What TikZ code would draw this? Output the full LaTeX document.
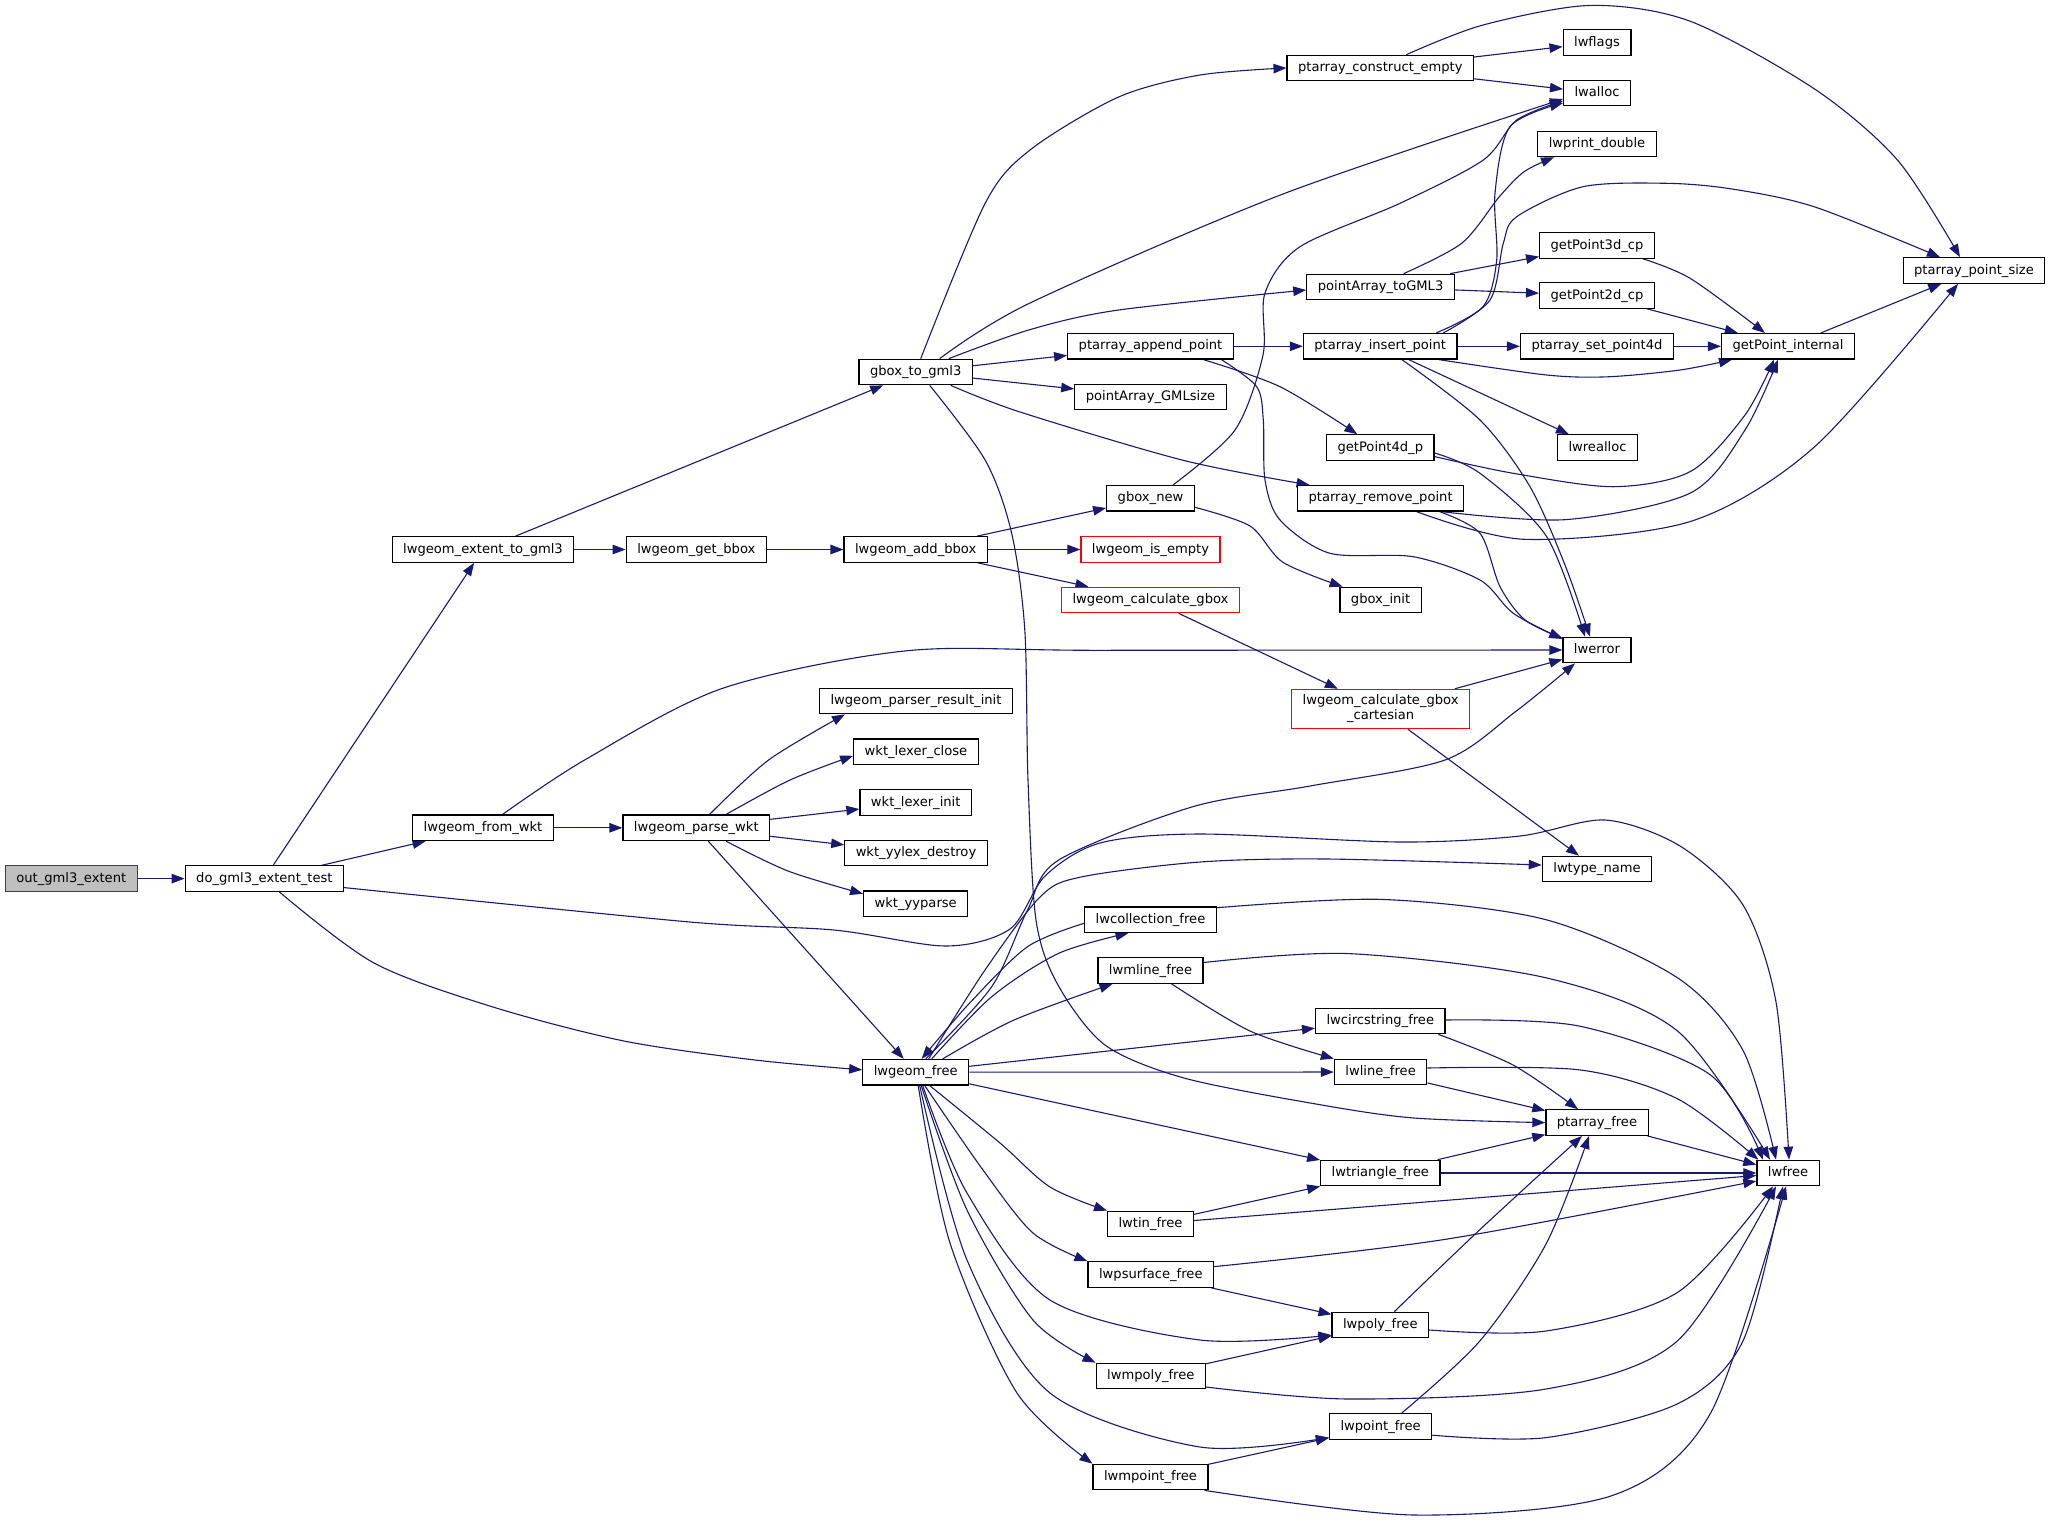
\documentclass[tikz,border=0pt]{standalone}
\usepackage{fontspec}
\setmainfont{DejaVu Sans}
\usetikzlibrary{arrows.meta,calc}
\definecolor{edgeblue}{HTML}{191970}
\definecolor{rootfill}{HTML}{BFBFBF}
\definecolor{rootdraw}{HTML}{404040}
\pgfdeclarelayer{bg}
\pgfdeclarelayer{edges}
\pgfsetlayers{bg,edges,main}
\begin{document}
\begin{tikzpicture}[x=1pt,y=-1pt,
  fn/.style={draw=black, line width=1.2pt, fill=white, inner xsep=11pt, inner ysep=0pt,
    minimum height=25.5pt, text height=9.8pt, text depth=2.8pt,
    font=\fontsize{13.1}{15}\selectfont},
  rootfn/.style={fn, fill=rootfill, draw=rootdraw},
  redfn/.style={fn, draw=red},
  redtwo/.style={draw=red, line width=1.2pt, fill=white, inner xsep=11pt, inner ysep=0pt,
    minimum height=39.3pt, align=center, font=\fontsize{13.1}{15}\selectfont},
  e/.style={draw=edgeblue, line width=1.1pt, -{Triangle[length=13pt,width=9.5pt]}},
]
\begin{pgfonlayer}{bg}
\fill[white] (0,0) rectangle (2051,1519);
\end{pgfonlayer}
\useasboundingbox (0,0) rectangle (2051,1519);

% ---- nodes ----
\node[rootfn] (root) at (71.3,878.6) {out\_gml3\_extent};
\node[fn] (dogml) at (264.4,878.6) {do\_gml3\_extent\_test};
\node[fn] (extgml) at (483,549.5) {lwgeom\_extent\_to\_gml3};
\node[fn] (fromwkt) at (483,827.8) {lwgeom\_from\_wkt};
\node[fn] (getbbox) at (696.3,549.5) {lwgeom\_get\_bbox};
\node[fn] (parsewkt) at (696.3,827.8) {lwgeom\_parse\_wkt};
\node[fn] (gboxgml) at (915.7,372) {gbox\_to\_gml3};
\node[fn] (addbbox) at (915.7,549.5) {lwgeom\_add\_bbox};
\node[fn] (parserinit) at (916,701) {lwgeom\_parser\_result\_init};
\node[fn] (lexerclose) at (916,751.8) {wkt\_lexer\_close};
\node[fn] (lexerinit) at (915.7,802.6) {wkt\_lexer\_init};
\node[fn] (yylexdestroy) at (916,853) {wkt\_yylex\_destroy};
\node[fn] (yyparse) at (915.7,903.8) {wkt\_yyparse};
\node[fn] (lwgfree) at (915.7,1072.2) {lwgeom\_free};
\node[fn] (appendpt) at (1150.5,346.3) {ptarray\_append\_point};
\node[fn] (gmlsize) at (1150.5,397) {pointArray\_GMLsize};
\node[fn] (gboxnew) at (1150.5,498.3) {gbox\_new};
\node[redfn] (isempty) at (1150.5,549.5) {lwgeom\_is\_empty};
\node[redfn] (calcgbox) at (1150.5,600) {lwgeom\_calculate\_gbox};
\node[fn] (lwcoll) at (1150.5,919.7) {lwcollection\_free};
\node[fn] (lwmline) at (1150.5,970.5) {lwmline\_free};
\node[fn] (lwtin) at (1150.5,1224) {lwtin\_free};
\node[fn] (lwpsurf) at (1150.8,1274.6) {lwpsurface\_free};
\node[fn] (lwmpoly) at (1150.8,1376) {lwmpoly\_free};
\node[fn] (lwmpoint) at (1150.5,1477) {lwmpoint\_free};
\node[fn] (constructempty) at (1380.3,68) {ptarray\_construct\_empty};
\node[fn] (togml3) at (1380.6,287) {pointArray\_toGML3};
\node[fn] (insertpt) at (1380.2,346.3) {ptarray\_insert\_point};
\node[fn] (getp4d) at (1380.3,447.6) {getPoint4d\_p};
\node[fn] (removept) at (1380.6,498.3) {ptarray\_remove\_point};
\node[fn] (gboxinit) at (1380.6,600) {gbox\_init};
\node[redtwo] (cartesian) at (1380.6,709) {lwgeom\_calculate\_gbox\\\_cartesian};
\node[fn] (lwcirc) at (1380.3,1021) {lwcircstring\_free};
\node[fn] (lwline) at (1380.6,1072) {lwline\_free};
\node[fn] (lwtriangle) at (1380.3,1173) {lwtriangle\_free};
\node[fn] (lwpoly) at (1380.3,1325) {lwpoly\_free};
\node[fn] (lwpoint) at (1380.6,1426.5) {lwpoint\_free};
\node[fn] (lwflags) at (1597,42.6) {lwflags};
\node[fn] (lwalloc) at (1597,93) {lwalloc};
\node[fn] (lwprint) at (1597,144) {lwprint\_double};
\node[fn] (getp3d) at (1597,245.5) {getPoint3d\_cp};
\node[fn] (getp2d) at (1597,295.5) {getPoint2d\_cp};
\node[fn] (setpt4d) at (1597,346.3) {ptarray\_set\_point4d};
\node[fn] (lwrealloc) at (1597.5,447.6) {lwrealloc};
\node[fn] (lwerror) at (1597,650) {lwerror};
\node[fn] (lwtype) at (1597,869) {lwtype\_name};
\node[fn] (ptarrayfree) at (1597,1122.6) {ptarray\_free};
\node[fn] (getpint) at (1788,346.3) {getPoint\_internal};
\node[fn] (lwfree) at (1788,1173) {lwfree};
\node[fn] (pointsize) at (1974,270.5) {ptarray\_point\_size};

\begin{pgfonlayer}{edges}
% ---- straight connectors ----
\draw[e] (root) -- (dogml);
\draw[e] (dogml) -- (extgml);
\draw[e] (dogml) -- (fromwkt);
\draw[e] (extgml) -- (gboxgml);
\draw[e] (extgml) -- (getbbox);
\draw[e] (getbbox) -- (addbbox);
\draw[e] (addbbox) -- (gboxnew);
\draw[e] (addbbox) -- (isempty);
\draw[e] (addbbox) -- (calcgbox);
\draw[e] (calcgbox) -- (cartesian);
\draw[e] (cartesian) -- (lwerror);
\draw[e] (cartesian) -- (lwtype);
\draw[e] (gboxgml) -- (appendpt);
\draw[e] (gboxgml) -- (gmlsize);
\draw[e] (constructempty) -- (lwflags);
\draw[e] (constructempty) -- (lwalloc);
\draw[e] (togml3) -- (getp3d);
\draw[e] (togml3) -- (getp2d);
\draw[e] (appendpt) -- (insertpt);
\draw[e] (insertpt) -- (setpt4d);
\draw[e] (setpt4d) -- (getpint);
\draw[e] (insertpt) -- (lwrealloc);
\draw[e] (getp2d) -- (getpint);
\draw[e] (getpint) -- (pointsize);
\draw[e] (fromwkt) -- (parsewkt);
\draw[e] (parsewkt) -- (lwgfree);
\draw[e] (parsewkt) -- (lexerinit);
\draw[e] (parsewkt) -- (yylexdestroy);
\draw[e] (lwgfree) -- (lwline);
\draw[e] (lwgfree) -- (lwcirc);
\draw[e] (lwgfree) -- (lwtriangle);
\draw[e] (lwline) -- (ptarrayfree);
\draw[e] (ptarrayfree) -- (lwfree);
\draw[e] (lwtriangle) -- (ptarrayfree);
\draw[e] (lwtriangle) -- (lwfree);
\draw[e] (lwtin) -- (lwtriangle);
\draw[e] (lwtin) -- (lwfree);
\draw[e] (lwpsurf) -- (lwpoly);
\draw[e] (lwmpoly) -- (lwpoly);
\draw[e] (lwmpoint) -- (lwpoint);

% ---- curved connectors ----
\draw[e] plot[smooth] coordinates {([yshift=-9pt]dogml.east) (690,922) (834,930) (946,946) (1010,929) (1045,876) (1100,843) (1200,834) (1400,842) (1520,836) (1605,820) (1680,846) (1743,905) (1776,1002) ([xshift=1pt]lwfree.north)};
\draw[e] plot[smooth] coordinates {([xshift=15pt]dogml.south) (374,963) (493,1007) (624,1041) (755,1060) ([yshift=2.4pt]lwgfree.west)};
\draw[e] plot[smooth] coordinates {([xshift=19.5pt]fromwkt.north) (584.6,760) (722.6,688.3) (906.5,650.8) (1100,650.3) (lwerror.west)};
\draw[e] plot[smooth] coordinates {([xshift=13.2pt]parsewkt.north) (768.6,760) ([xshift=-71pt]parserinit.south)};
\draw[e] plot[smooth] coordinates {([xshift=29.7pt]parsewkt.north) (790,780) ([yshift=-4pt]lexerclose.west)};
\draw[e] plot[smooth] coordinates {([xshift=29.7pt]parsewkt.south) (788,871) ([yshift=10pt]yyparse.west)};

\draw[e] plot[smooth] coordinates {([xshift=10pt]lwgfree.north) (991.7,986.7) (1027.5,910) (1058.7,860) (1192.8,806.7) (1310,786) (1445,760) (1515,712) ([xshift=-22pt]lwerror.south)};
\draw[e] plot[smooth] coordinates {([xshift=13pt]lwgfree.north) (985,970) (1040,897) (1081,877) (1200,862) (1327,859) ([yshift=4pt]lwtype.west)};
\draw[e] plot[smooth] coordinates {([xshift=16pt]lwgfree.north) (991.7,996.7) (1058.7,953.3) ([xshift=-22pt]lwcoll.south)};
\draw[e] plot[smooth] coordinates {([yshift=-3.6pt]lwcoll.west) (1027.5,946.7) (969.4,1003.3) ([xshift=6pt]lwgfree.north)};
\draw[e] plot[smooth] coordinates {([xshift=27pt]lwgfree.north) (1014,1020) ([xshift=-38pt]lwmline.south)};

\draw[e] plot[smooth] coordinates {([xshift=14pt]lwgfree.south) (1000,1143) (1050,1187) (lwtin.north west)};
\draw[e] plot[smooth] coordinates {([xshift=9pt]lwgfree.south) (983,1170) (1033,1233) (lwpsurf.north west)};
\draw[e] plot[smooth] coordinates {([xshift=7pt]lwgfree.south) (967,1193) (1050,1300) (1200,1340) ([yshift=-10pt]lwpoly.west)};
\draw[e] plot[smooth] coordinates {([xshift=5.5pt]lwgfree.south) (967,1210) (1033,1320) (lwmpoly.north west)};
\draw[e] plot[smooth] coordinates {([xshift=4pt]lwgfree.south) (967,1260) (1050,1393) (1200,1447) ([yshift=-11pt]lwpoint.west)};
\draw[e] plot[smooth] coordinates {([xshift=2.5pt]lwgfree.south) (950,1243) (1017,1393) (lwmpoint.north west)};

\draw[e] plot[smooth] coordinates {([xshift=5pt]gboxgml.north) (985,203.6) (1030,150) (1118.6,97) (1200,75) (constructempty.west)};
\draw[e] plot[smooth] coordinates {([xshift=24pt]gboxgml.north) (1030,303) (1283,194) ([yshift=-6pt]lwalloc.west)};
\draw[e] plot[smooth] coordinates {([xshift=33pt]gboxgml.north) (1030,329.6) (1118.6,310) ([yshift=-3pt]togml3.west)};
\draw[e] plot[smooth] coordinates {([xshift=35pt]gboxgml.south) (1020,412) (1184,460.5) ([xshift=-71pt]removept.north)};
\draw[e] plot[smooth] coordinates {([xshift=14pt]gboxgml.south) (985.4,460.5) (1011.6,533) (1024.8,630) (1028,780) (1036,920) (1058,985) (1105,1045) (1184,1078) (1316,1104) (1414,1118) (ptarrayfree.west)};

\draw[e] plot[smooth] coordinates {([xshift=26pt]constructempty.north) (1483,25) (1591,5.4) (1690.6,21.4) (1815,89.3) (1898,160.7) ([xshift=-14pt]pointsize.north)};
\draw[e] plot[smooth] coordinates {([xshift=23pt]togml3.north) (1462,243) (1499.6,196.4) (1524.5,171.4) ([xshift=-43pt]lwprint.south)};
\draw[e] plot[smooth] coordinates {([xshift=53pt]appendpt.south) (1280,386.7) ([xshift=-23pt]getp4d.north)};
\draw[e] plot[smooth] coordinates {([xshift=71pt]appendpt.south) (1256.7,386.7) (1263.3,420) (1265,480) (1280,520) (1330,553.3) (1413.3,556.7) (1480,580) (1513.3,613.3) ([yshift=11pt]lwerror.west)};

\draw[e] plot[smooth] coordinates {([xshift=59pt]insertpt.south) (1546.7,375) (1607.6,376.8) (1680,370) ([xshift=-56pt]getpint.south)};
\draw[e] plot[smooth] coordinates {([xshift=21.7pt]insertpt.south) (1480,420) (1530,486.7) (1565,565) ([xshift=-7pt]lwerror.north)};
\draw[e] plot[smooth] coordinates {([xshift=56pt]insertpt.north) (1483,306.7) (1496.7,260) (1495,193.3) (1510,126.7) ([yshift=-10pt]lwalloc.west)};
\draw[e] plot[smooth] coordinates {([xshift=63pt]insertpt.north) (1490,300) (1503.3,243.3) (1516.7,216.7) (1583,186.7) (1666.7,183.3) (1732,189) (1815,207) ([xshift=-34pt]pointsize.north)};

\draw[e] plot[smooth] coordinates {([xshift=46pt]getp3d.south) (1690.6,278.6) ([xshift=-23pt]getpint.north)};
\draw[e] plot[smooth] coordinates {([yshift=-9pt]getp4d.east) (1513.3,473.3) (1613.3,486.7) (1690.6,471.4) (1745,415) ([xshift=-14pt]getpint.south)};
\draw[e] plot[smooth] coordinates {([yshift=-5.4pt]getp4d.east) (1480,473.3) (1546.7,536.7) ([xshift=-12pt]lwerror.north)};
\draw[e] plot[smooth] coordinates {([xshift=61pt]removept.south) (1566,519.6) (1690.6,492.9) (1745,430) ([xshift=-10pt]getpint.south)};
\draw[e] plot[smooth] coordinates {([xshift=36pt]removept.south) (1524.5,539.3) (1690.6,521.4) (1815,446.4) ([xshift=-16pt]pointsize.south)};
\draw[e] plot[smooth] coordinates {([xshift=59pt]removept.south) (1480,533.3) (1500,586.7) (1525,620) ([yshift=12pt]lwerror.west)};

\draw[e] plot[smooth] coordinates {([yshift=-9pt]gboxnew.east) (1250,526) (1283,562.3) ([xshift=-38pt]gboxinit.north)};
\draw[e] plot[smooth] coordinates {([xshift=22.5pt]gboxnew.north) (1235,430) (1263,355) (1265,293) (1300,246.7) (1400,203.3) (1483.3,160) (1516.7,120) ([yshift=-8pt]lwalloc.west)};

\draw[e] plot[smooth] coordinates {([xshift=21pt]lwmline.south) (1250,1031) (lwline.north west)};
\draw[e] plot[smooth] coordinates {([xshift=58pt]lwcirc.south) (1513,1065) ([xshift=-19pt]ptarrayfree.north)};
\draw[e] plot[smooth] coordinates {([yshift=12pt]lwcoll.east) (1381.6,899.4) (1546,919.7) (1677.5,977.8) (1743,1050.4) ([xshift=-12pt]lwfree.north)};
\draw[e] plot[smooth] coordinates {([yshift=8pt]lwmline.east) (1348.8,953.6) (1546,977.8) (1677.5,1031) ([xshift=-18pt]lwfree.north)};
\draw[e] plot[smooth] coordinates {([yshift=1pt]lwcirc.east) (1579,1026) (1710,1074.6) ([xshift=-25pt]lwfree.north)};
\draw[e] plot[smooth] coordinates {([yshift=4pt]lwline.east) (1579,1069.8) (1677.5,1098.8) ([xshift=2pt]lwfree.north west)};
\draw[e] plot[smooth] coordinates {([xshift=14pt]lwpoly.north) (1480,1229.5) ([xshift=-15pt]ptarrayfree.south)};
\draw[e] plot[smooth] coordinates {([yshift=-5pt]lwpoly.east) (1546,1331) (1677.5,1292.4) ([xshift=-15pt]lwfree.south)};
\draw[e] plot[smooth] coordinates {([yshift=-11pt]lwmpoly.east) (1348.8,1399) (1546,1389) (1677.5,1340.8) ([xshift=-12pt]lwfree.south)};
\draw[e] plot[smooth] coordinates {([xshift=21pt]lwpoint.north) (1480,1340.8) (1546,1244) ([xshift=-8pt]ptarrayfree.south)};
\draw[e] plot[smooth] coordinates {([yshift=-8.7pt]lwpoint.east) (1546,1437.6) (1677.5,1403.8) (1743,1340.8) ([xshift=-5pt]lwfree.south)};
\draw[e] plot[smooth] coordinates {([xshift=54pt]lwmpoint.south) (1414.5,1515) (1611.7,1495.7) (1710.4,1413.4) ([xshift=-2pt]lwfree.south)};
\draw[e] plot[smooth] coordinates {([yshift=8pt]lwpsurf.east) (1447.4,1239) ([yshift=-8pt]lwfree.west)};
\end{pgfonlayer}
\end{tikzpicture}
\end{document}
